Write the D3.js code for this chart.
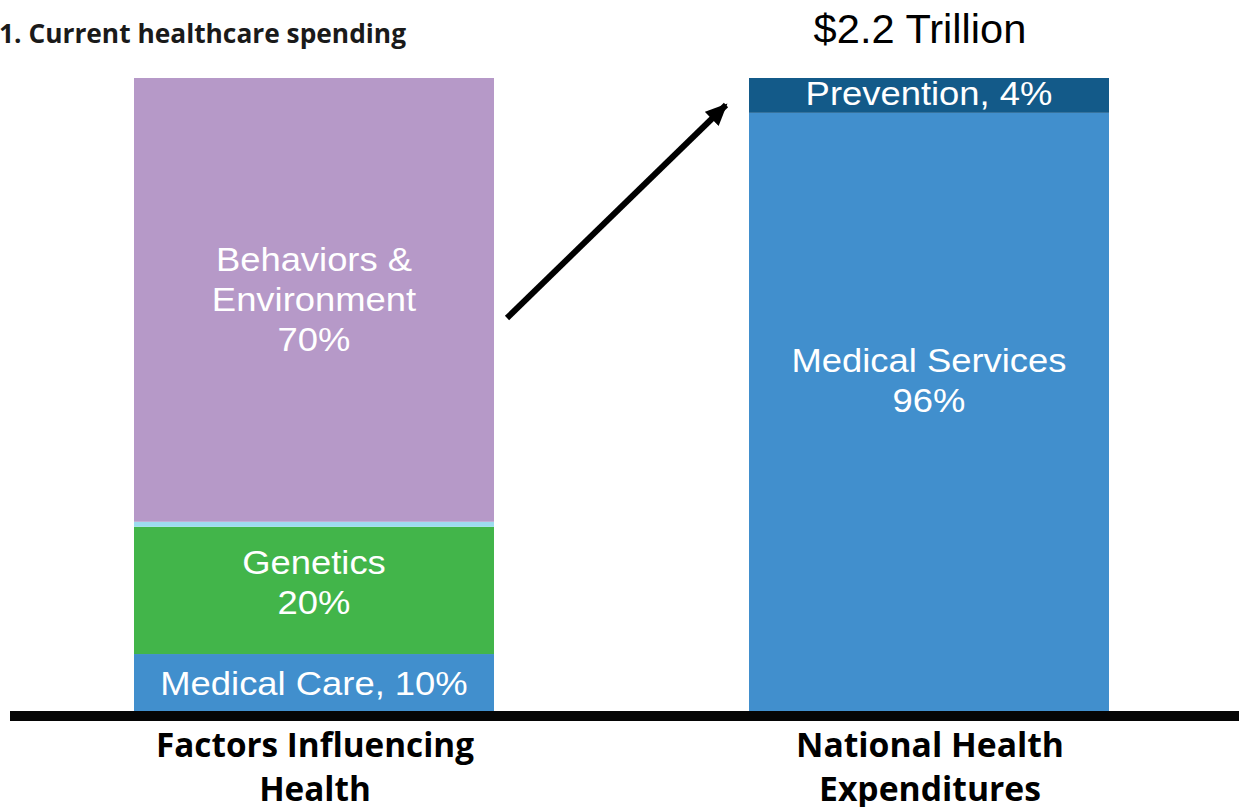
<!DOCTYPE html>
<html>
<head>
  <title>Current healthcare spending</title>
  <script src="https://d3js.org/d3.v7.min.js"></script>
  <style>
    body { margin: 0; background: #fff; }
    .seg-label { fill: #fff; font-family: "Liberation Sans", Arial, sans-serif; font-size: 34px; text-anchor: middle; }
    .cat-label { fill: #000; font-family: "Open Sans", sans-serif; font-weight: bold; font-size: 34px; text-anchor: middle; }
    .title { fill: #1a1a1a; font-family: "Open Sans", sans-serif; font-weight: bold; font-size: 27px; }
    .total { fill: #000; font-family: "Liberation Sans", Arial, sans-serif; font-size: 40px; text-anchor: middle; }
  </style>
</head>
<body>
  <div id="chart"></div>
  <script>
    // data (bar heights in %, labels as printed)
    const categories = ["Factors Influencing Health", "National Health Expenditures"];
    const categoryLines = [["Factors Influencing", "Health"], ["National Health", "Expenditures"]];

    const factorNames = ["Medical Care", "Genetics", "Other", "Behaviors & Environment"];
    const factorValues = [9, 20.1, 0.8, 70.1];
    const factorLabels = [["Medical Care, 10%"], ["Genetics", "20%"], [], ["Behaviors &", "Environment", "70%"]];
    const factorColors = ["#418fcd", "#42b54a", "#9ddcef", "#b699c8"];

    const spendNames = ["Medical Services", "Prevention"];
    const spendValues = [94.5, 5.5];
    const spendLabels = [["Medical Services", "96%"], ["Prevention, 4%"]];
    const spendColors = ["#418fcd", "#135a89"];

    const title = "1. Current healthcare spending";
    const total = "$2.2 Trillion";

    const W = 1239, H = 807;
    const svg = d3.select("#chart").append("svg")
      .attr("width", W).attr("height", H);

    const x = d3.scaleBand()
      .domain(categories)
      .range([6.5, 1236.5])
      .paddingInner(255 / 615)
      .paddingOuter(127.5 / 615);

    const y = d3.scaleLinear().domain([0, 100]).range([711, 78]);

    function stack(names, values, labels, colors) {
      let acc = 0;
      return names.map((n, i) => {
        const d = {name: n, y0: acc, y1: acc + values[i], lines: labels[i], color: colors[i]};
        acc += values[i];
        return d;
      });
    }

    const stacks = [
      stack(factorNames, factorValues, factorLabels, factorColors),
      stack(spendNames, spendValues, spendLabels, spendColors)
    ];

    // small vertical nudges so labels sit where the original put them
    const nudge = {"Genetics": -8, "Behaviors & Environment": -1, "Medical Services": -32, "Prevention": -2};
    const sx = 1.07; // original text looks slightly stretched horizontally

    stacks.forEach((segs, ci) => {
      const cat = categories[ci];
      const g = svg.append("g");
      g.selectAll("rect")
        .data(segs)
        .join("rect")
          .attr("x", x(cat))
          .attr("width", x.bandwidth())
          .attr("y", d => y(d.y1))
          .attr("height", d => y(d.y0) - y(d.y1))
          .attr("fill", d => d.color);

      segs.forEach(d => {
        if (!d.lines.length) return;
        const mid = (y(d.y0) + y(d.y1)) / 2;
        const first = mid - (d.lines.length - 1) * 40 / 2 + 12 + (nudge[d.name] || 0);
        d.lines.forEach((ln, li) => {
          g.append("text")
            .attr("class", "seg-label")
            .attr("x", x(cat) + x.bandwidth() / 2)
            .attr("y", first + li * 40)
            .text(ln);
        });
      });
    });

    // stretch bar labels a bit
    svg.selectAll(".seg-label").each(function () {
      const t = d3.select(this);
      t.attr("textLength", this.getComputedTextLength() * sx).attr("lengthAdjust", "spacingAndGlyphs");
    });

    // baseline
    svg.append("rect")
      .attr("x", 10).attr("width", W - 10)
      .attr("y", y(0)).attr("height", 10)
      .attr("fill", "#050505");

    // category labels under bars; squeeze Open Sans to the narrower original face
    const catFirstWidth = [318, 268];
    categoryLines.forEach((lines, ci) => {
      const texts = lines.map((ln, li) => svg.append("text")
        .attr("class", "cat-label")
        .attr("x", x(categories[ci]) + x.bandwidth() / 2 + 1)
        .attr("y", 757 + li * 44)
        .text(ln));
      const k = catFirstWidth[ci] / texts[0].node().getComputedTextLength();
      texts.forEach(t => t
        .attr("textLength", t.node().getComputedTextLength() * k)
        .attr("lengthAdjust", "spacingAndGlyphs"));
    });

    // title
    svg.append("text")
      .attr("class", "title")
      .attr("x", -1).attr("y", 43)
      .attr("textLength", 407)
      .attr("lengthAdjust", "spacingAndGlyphs")
      .text(title);

    // total over the right bar
    const tot = svg.append("text")
      .attr("class", "total")
      .attr("x", x(categories[1]) + x.bandwidth() / 2 - 9)
      .attr("y", 43)
      .text(total);
    tot.attr("textLength", tot.node().getComputedTextLength() * 1.04).attr("lengthAdjust", "spacingAndGlyphs");

    // arrow from the left bar to the right bar
    svg.append("defs").append("marker")
      .attr("id", "head")
      .attr("markerUnits", "userSpaceOnUse")
      .attr("markerWidth", 24).attr("markerHeight", 24)
      .attr("refX", 20).attr("refY", 10)
      .attr("orient", "auto")
      .append("path")
        .attr("d", "M0,0 L22,10 L0,20 Z")
        .attr("fill", "#000");

    const ax0 = x(categories[0]) + x.bandwidth() + 13;
    const ax1 = x(categories[1]) - 23;
    svg.append("line")
      .attr("x1", ax0).attr("y1", 318)
      .attr("x2", ax1).attr("y2", 105)
      .attr("stroke", "#000")
      .attr("stroke-width", 6)
      .attr("marker-end", "url(#head)");
  </script>
</body>
</html>
